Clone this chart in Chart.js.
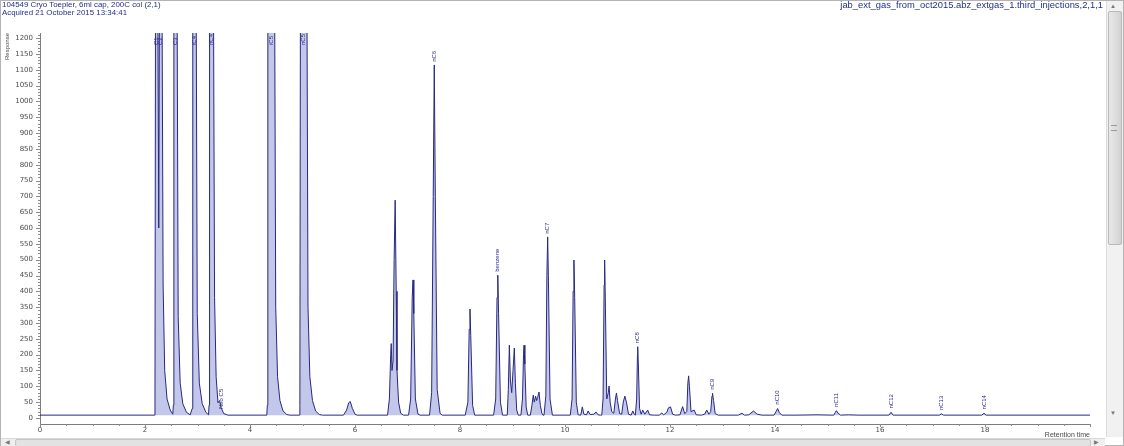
<!DOCTYPE html>
<html>
<head>
<meta charset="utf-8">
<script src="https://cdn.jsdelivr.net/npm/chart.js@4.4.1/dist/chart.umd.min.js"></script>
<style>
  html, body { margin: 0; padding: 0; background: #fff; }
  body { width: 1124px; height: 446px; position: relative; overflow: hidden; font-family: "Liberation Sans", Arial, sans-serif; }
  #frame { position: absolute; left: 0; top: 0; width: 1122px; height: 444px; border: 1px solid #b4b4b4; }
  #wrap { position: absolute; left: 0; top: 0; width: 1100px; height: 440px; }
  .hdr { position: absolute; color: #22308a; white-space: nowrap; }
  #vbar { position: absolute; left: 1106px; top: 1px; width: 16px; height: 436px; background: #f1f1f1; border-left: 1px solid #dcdcdc; }
  #vthumb { position: absolute; left: 1108px; top: 11px; width: 12px; height: 232px; background: linear-gradient(to right, #e9e9e9, #d2d2d2); border: 1px solid #b9b9b9; border-radius: 2px; }
  #vgrip { position: absolute; left: 1111px; top: 125px; width: 6px; height: 4px; border-top: 1px solid #999; border-bottom: 1px solid #999; }
  .arr { position: absolute; font-size: 6px; color: #777; line-height: 6px; }
  #hbar { position: absolute; left: 1px; top: 438px; width: 1104px; height: 8px; background: #efefef; border-top: 1px solid #d8d8d8; }
  #hthumb { position: absolute; left: 15px; top: 439px; width: 1074px; height: 6px; background: #e2e2e2; border: 1px solid #c6c6c6; border-radius: 2px; }
</style>
</head>
<body>
<div id="frame"></div>
<div id="wrap"><canvas id="gc"></canvas></div>
<div class="hdr" style="left:2px;top:1px;font-size:7.9px;line-height:7.5px;">104549 Cryo Toepler, 6ml cap, 200C col (2,1)<br>Acquired 21 October 2015 13:34:41</div>
<div class="hdr" style="right:21px;top:1px;font-size:9.4px;line-height:8px;">jab_ext_gas_from_oct2015.abz_extgas_1.third_injections,2,1,1</div>
<div id="vbar"></div>
<div class="arr" style="left:1110px;top:3px;">&#9650;</div>
<div id="vthumb"></div>
<div id="vgrip"></div>
<div class="arr" style="left:1110px;top:410px;">&#9660;</div>
<div id="hbar"></div>
<div id="hthumb"></div>
<div class="arr" style="left:5px;top:439px;">&#9664;</div>
<div class="arr" style="left:1094px;top:439px;">&#9654;</div>

<script>
// chromatogram trace vertices (retention time in min, response)
const traceTime = [
  0.00, 2.18,
  // C1 / C2 (off scale)
  2.19, 2.20, 2.245, 2.262, 2.275, 2.325, 2.345, 2.375, 2.42, 2.48, 2.53,
  // C3
  2.54, 2.55, 2.612, 2.632, 2.67, 2.72, 2.79, 2.86,
  // iC4
  2.90, 2.91, 2.975, 2.995, 3.035, 3.09, 3.16, 3.21,
  // nC4 + neo C5
  3.22, 3.23, 3.305, 3.325, 3.355, 3.39, 3.42, 3.45, 3.50, 3.58,
  // iC5
  4.32, 4.33, 4.34, 4.47, 4.49, 4.525, 4.57, 4.63, 4.70, 4.76,
  // nC5
  4.94, 4.95, 4.96, 5.085, 5.105, 5.14, 5.19, 5.25, 5.32, 5.38,
  // bump at 5.9
  5.78, 5.84, 5.88, 5.91, 5.95, 6.00, 6.04,
  // 6.7 pair
  6.62, 6.655, 6.68, 6.69, 6.705, 6.725, 6.745, 6.765, 6.785, 6.80, 6.83, 6.87, 6.92,
  // 7.1
  7.02, 7.06, 7.09, 7.105, 7.12, 7.15, 7.20, 7.24,
  // nC6
  7.42, 7.46, 7.49, 7.51, 7.53, 7.565, 7.62, 7.66,
  // 8.19
  8.10, 8.15, 8.175, 8.19, 8.205, 8.24, 8.28,
  // benzene
  8.64, 8.68, 8.705, 8.72, 8.735, 8.77, 8.81,
  // 8.94 / 9.03
  8.90, 8.92, 8.94, 8.96, 8.985, 9.01, 9.035, 9.055, 9.08, 9.11,
  // 9.22
  9.16, 9.19, 9.21, 9.22, 9.235, 9.26, 9.29,
  // 9.4 - 9.5 cluster
  9.34, 9.37, 9.395, 9.415, 9.44, 9.46, 9.48, 9.505, 9.53, 9.56, 9.58,
  // nC7
  9.60, 9.635, 9.655, 9.67, 9.685, 9.715, 9.76,
  // 10.17
  10.10, 10.135, 10.155, 10.17, 10.185, 10.215, 10.25,
  10.30, 10.33, 10.36, 10.41, 10.44, 10.48, 10.55, 10.59, 10.63, 10.68,
  // 10.75 group
  10.70, 10.725, 10.745, 10.755, 10.77, 10.795, 10.825, 10.84, 10.86, 10.89,
  10.93, 10.96, 10.98, 11.00, 11.04, 11.08, 11.11, 11.14, 11.17, 11.21,
  11.26, 11.29, 11.32,
  // nC8
  11.34, 11.365, 11.38, 11.385, 11.395, 11.42, 11.45,
  11.48, 11.52, 11.575, 11.61, 11.70,
  11.80, 11.84, 11.88, 11.94, 11.97, 12.01, 12.05, 12.10,
  12.19, 12.24, 12.28,
  12.32, 12.34, 12.355, 12.37, 12.40,
  12.46, 12.50, 12.60, 12.66, 12.70, 12.74,
  // nC9
  12.775, 12.80, 12.81, 12.83, 12.86, 12.92,
  13.30, 13.37, 13.42, 13.50, 13.59, 13.66, 13.75,
  // nC10
  13.98, 14.02, 14.05, 14.08, 14.13, 14.40, 14.80,
  // nC11
  15.12, 15.15, 15.17, 15.20, 15.25, 15.40, 15.60,
  // nC12, nC13, nC14
  16.17, 16.21, 16.25,
  17.13, 17.17, 17.21,
  17.94, 17.98, 18.02,
  20.00
];
const traceResp = [
  9, 9,
  60, 1300, 1300, 600, 1300, 1300, 420, 150, 60, 25, 12,
  40, 1300, 1300, 320, 110, 45, 18, 10,
  30, 1300, 1300, 330, 110, 45, 18, 10,
  40, 1300, 1300, 380, 130, 48, 55, 32, 14, 9,
  9, 40, 1300, 1300, 350, 130, 55, 22, 11, 9,
  9, 40, 1300, 1300, 350, 130, 55, 22, 11, 9,
  9, 25, 48, 52, 30, 12, 9,
  9, 60, 200, 235, 150, 180, 500, 688, 400, 150, 50, 15, 9,
  9, 60, 380, 436, 330, 60, 12, 9,
  9, 80, 700, 1115, 700, 90, 15, 9,
  9, 50, 280, 344, 260, 40, 9,
  9, 60, 380, 451, 330, 50, 9,
  9, 90, 230, 120, 80, 150, 221, 110, 25, 9,
  9, 60, 200, 230, 170, 35, 9,
  9, 40, 72, 50, 69, 55, 65, 82, 40, 15, 9,
  9, 70, 450, 572, 430, 60, 9,
  9, 60, 400, 499, 380, 50, 10,
  9, 35, 12, 10, 22, 11, 12, 19, 10, 9,
  9, 60, 420, 499, 350, 60, 80, 101, 50, 20,
  15, 60, 79, 55, 14, 12, 50, 69, 50, 12,
  9, 22, 12,
  9, 60, 200, 225, 180, 30, 12,
  25, 12, 25, 10, 9,
  9, 16, 10, 18, 32, 35, 12, 9,
  10, 36, 14,
  20, 110, 133, 100, 20,
  25, 10, 9, 12, 25, 12,
  20, 70, 78, 55, 14, 9,
  9, 15, 9, 10, 22, 12, 9,
  9, 20, 30, 18, 9, 9, 10,
  9, 18, 23, 15, 9, 10, 9,
  9, 18, 9,
  9, 13, 9,
  9, 15, 9,
  9
];

// peak names and where their rotated labels start
const peakNames = ["C1", "C2", "C3", "iC4", "nC4", "Neo C5", "iC5", "nC5", "nC6", "benzene", "nC7", "nC8", "nC9", "nC10", "nC11", "nC12", "nC13", "nC14"];
const labelTime = [2.222, 2.30, 2.581, 2.942, 3.267, 3.45, 4.405, 5.022, 7.51, 8.72, 9.67, 11.385, 12.81, 14.05, 15.17, 16.21, 17.17, 17.98];
const labelResp = [1178, 1178, 1178, 1178, 1178, 28, 1178, 1178, 1125, 462, 582, 236, 89, 42, 35, 30, 25, 27];

const xTickLabels = [0, 2, 4, 6, 8, 10, 12, 14, 16, 18];
const yTickLabels = [0, 50, 100, 150, 200, 250, 300, 350, 400, 450, 500, 550, 600,
  650, 700, 750, 800, 850, 900, 950, 1000, 1050, 1100, 1150, 1200];

const axisExtras = {
  id: "axisExtras",
  afterDatasetsDraw(chart) {
    const { ctx, chartArea } = chart;
    const x = chart.scales.x, y = chart.scales.y;
    ctx.save();
    ctx.strokeStyle = "#8c8c8c";
    ctx.lineWidth = 1;
    ctx.beginPath();
    for (let v = 0; v <= 1210; v += 10) {
      const py = Math.round(y.getPixelForValue(v)) + 0.5;
      const len = v % 50 === 0 ? 4 : 2;
      ctx.moveTo(chartArea.left - len, py);
      ctx.lineTo(chartArea.left, py);
    }
    for (let t = 0; t <= 20; t += 0.5) {
      const px = Math.round(x.getPixelForValue(t)) + 0.5;
      const len = t % 2 === 0 ? 3 : 2;
      ctx.moveTo(px, chartArea.bottom);
      ctx.lineTo(px, chartArea.bottom + len);
    }
    ctx.stroke();

    ctx.fillStyle = "#2c2c8e";
    ctx.font = '6px "Liberation Sans", Arial, sans-serif';
    ctx.textAlign = "left";
    ctx.textBaseline = "middle";
    peakNames.forEach((name, i) => {
      const px = x.getPixelForValue(labelTime[i]);
      const py = y.getPixelForValue(labelResp[i]);
      ctx.save();
      ctx.translate(px, py);
      ctx.rotate(-Math.PI / 2);
      ctx.fillText(name, 0, 0);
      ctx.restore();
    });
    ctx.restore();
  },
};

new Chart(document.getElementById("gc"), {
  type: "line",
  data: {
    datasets: [{
      data: traceTime.map((t, i) => ({ x: t, y: traceResp[i] })),
      borderColor: "#28287e",
      borderWidth: 1,
      backgroundColor: "rgba(145, 154, 218, 0.55)",
      fill: { value: 9 },
      pointRadius: 0,
      tension: 0,
    }],
  },
  options: {
    responsive: true,
    maintainAspectRatio: false,
    animation: false,
    devicePixelRatio: 1,
    layout: { padding: { top: 33, right: 10, left: 0, bottom: 0 } },
    plugins: { legend: { display: false }, tooltip: { enabled: false } },
    scales: {
      x: {
        type: "linear",
        min: 0,
        max: 20,
        afterFit: (s) => { s.height = 16; },
        afterBuildTicks: (s) => { s.ticks = xTickLabels.map((v) => ({ value: v })); },
        grid: { display: false, drawTicks: false },
        border: { display: true, color: "#7c7c7c" },
        ticks: {
          autoSkip: false, maxRotation: 0, padding: 2, color: "#4a4a4a",
          font: { family: "DejaVu Sans", size: 7 },
          callback: (v) => String(v),
        },
        title: {
          display: true, text: "Retention time", align: "end", color: "#4a4a4a",
          font: { family: "Liberation Sans", size: 7 }, padding: { top: 0, bottom: 1 },
        },
      },
      y: {
        min: -19,
        max: 1216,
        afterFit: (s) => { s.width = 40; },
        afterBuildTicks: (s) => { s.ticks = yTickLabels.map((v) => ({ value: v })); },
        grid: { display: false, drawTicks: false },
        border: { display: true, color: "#7c7c7c" },
        ticks: {
          autoSkip: false, padding: 7, color: "#4a4a4a",
          font: { family: "DejaVu Sans", size: 7 },
          callback: (v) => String(v),
        },
        title: {
          display: true, text: "Response", align: "end", color: "#4a4a4a",
          font: { family: "Liberation Sans", size: 6 }, padding: { top: 4, bottom: 0 },
        },
      },
    },
  },
  plugins: [axisExtras],
});
</script>
</body>
</html>
